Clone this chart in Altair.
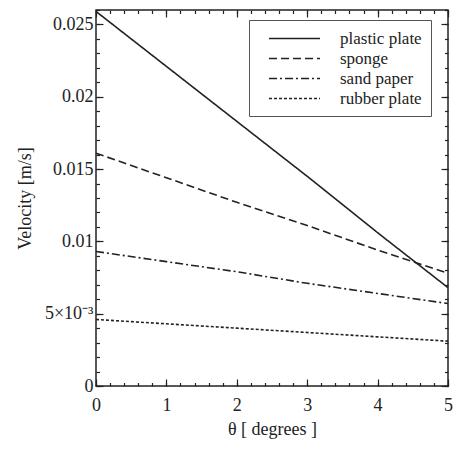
import altair as alt
import pandas as pd

theta = [0, 1, 2, 3, 4, 5]
plastic = [0.0259, 0.0221, 0.0183, 0.0145, 0.0106, 0.0068]
sponge = [0.0161, 0.0144, 0.0127, 0.0111, 0.0094, 0.0078]
sand = [0.0093, 0.0086, 0.0079, 0.0071, 0.0064, 0.0057]
rubber = [0.0046, 0.0043, 0.0040, 0.0037, 0.0034, 0.0031]
series = ["plastic plate", "sponge", "sand paper", "rubber plate"]
dashes = [[1, 0], [8, 4], [8, 3, 2, 3], [3, 2]]

x_major = [0, 1, 2, 3, 4, 5]
x_minor = [round(i * 0.2, 2) for i in range(26)]
y_major = [0, 0.005, 0.01, 0.015, 0.02, 0.025]
y_minor = [round(i * 0.001, 3) for i in range(27)]

rows = []
for name, vals in zip(series, [plastic, sponge, sand, rubber]):
    for t, v in zip(theta, vals):
        rows.append({"theta": t, "v": v, "series": name})
df = pd.DataFrame(rows)

FONT = "Liberation Serif"
INK = "#222222"
XD = [0, 5]
YD = [0, 0.026]


def xs(axis):
    return alt.X("theta:Q", scale=alt.Scale(domain=XD, nice=False, zero=False), axis=axis)


def ys(axis):
    return alt.Y("v:Q", scale=alt.Scale(domain=YD, nice=False, zero=False), axis=axis)


def ax(orient, values, size, labels=False, title=None, **kw):
    return alt.Axis(orient=orient, values=values, tickSize=size, offset=-size,
                    domain=False, grid=False, labels=labels, title=title,
                    tickColor=INK, tickWidth=1.2, **kw)


lines = alt.Chart(df).mark_line(strokeWidth=1.6, color=INK).encode(
    x=xs(ax("bottom", x_major, 7, labels=True, title="θ [ degrees ]",
            labelPadding=10, labelFontSize=18, titleFontSize=18,
            labelFont=FONT, titleFont=FONT,
            titleFontWeight="normal", labelColor=INK, titleColor=INK,
            titlePadding=6, labelFlush=False)),
    y=ys(ax("left", y_major, 7, labels=True, title="Velocity [m/s]",
            labelPadding=3, labelFontSize=18, titleFontSize=18,
            labelFont=FONT, titleFont=FONT,
            titleFontWeight="normal", labelColor=INK, titleColor=INK,
            titlePadding=10, labelFlush=False,
            labelExpr="datum.value == 0.005 ? '5×10⁻³' : datum.value == 0 ? '0' : format(datum.value, '.3~f')")),
    strokeDash=alt.StrokeDash(
        "series:N",
        scale=alt.Scale(domain=series, range=dashes),
        legend=alt.Legend(
            title=None, orient="none", legendX=153, legendY=10,
            symbolType="M-3,0H3", symbolSize=289, symbolStrokeWidth=1.6,
            symbolOffset=27, symbolStrokeColor=INK, labelFont=FONT,
            labelFontSize=17, labelColor=INK, labelOffset=36, padding=9,
            rowPadding=2, fillColor="white", strokeColor="#555555",
            cornerRadius=0,
        ),
    ),
)


def ghost(xa, ya):
    return alt.Chart(df).mark_line(strokeOpacity=0).encode(x=xs(xa), y=ys(ya))


layer2 = ghost(ax("bottom", x_minor, 3.5), ax("left", y_minor, 3.5))
layer3 = ghost(ax("top", x_major, 7), ax("right", y_major, 7))
layer4 = ghost(ax("top", x_minor, 3.5), ax("right", y_minor, 3.5))

chart = alt.layer(lines, layer2, layer3, layer4).resolve_scale(
    x="independent", y="independent"
).properties(
    width=352, height=376,
    autosize=alt.AutoSizeParams(type="none"),
    padding={"left": 88, "top": 2, "right": 5, "bottom": 57},
).configure(font=FONT).configure_view(
    stroke=INK, strokeWidth=1.5
)

chart.save("out.html", embed_options={"renderer": "svg", "actions": False})
